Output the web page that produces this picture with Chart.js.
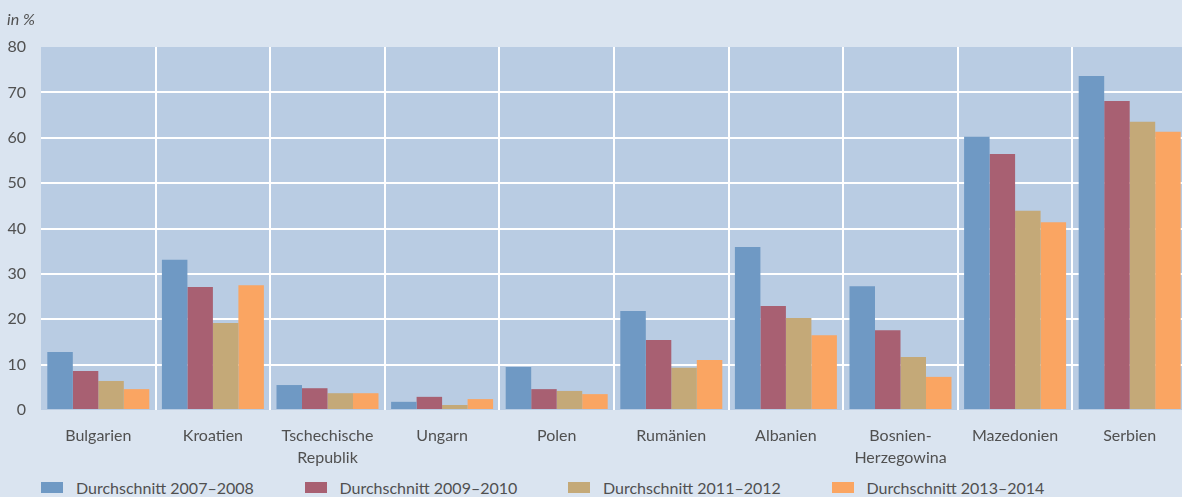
<!DOCTYPE html>
<html>
<head>
<meta charset="utf-8">
<script src="https://cdn.jsdelivr.net/npm/chart.js@4"></script>
<style>
  html, body { margin: 0; padding: 0; background: #dae4f0; overflow: hidden; }
  #wrap { position: absolute; left: 0; top: 0; width: 1187px; height: 472px; }
  #legend { position: absolute; left: 0; top: 476px; width: 1187px; height: 22px;
            font-family: Lato, sans-serif; font-size: 16px; color: #505050; }
  .item { position: absolute; top: 0; height: 22px; display: flex; align-items: center; white-space: nowrap; }
  .box { width: 22px; height: 11px; margin-right: 13px; }
</style>
</head>
<body>
<div id="wrap"><canvas id="myChart" width="1187" height="472"></canvas></div>
<div id="legend"></div>
<script>
var categories = ['Bulgarien', 'Kroatien', ['Tschechische', 'Republik'], 'Ungarn', 'Polen',
                  'Rumänien', 'Albanien', ['Bosnien-', 'Herzegowina'], 'Mazedonien', 'Serbien'];
var seriesLabels = ['Durchschnitt 2007–2008', 'Durchschnitt 2009–2010',
                    'Durchschnitt 2011–2012', 'Durchschnitt 2013–2014'];
var avg0708 = [12.8, 33.1, 5.5, 1.8, 9.5, 21.8, 35.9, 27.3, 60.2, 73.6];
var avg0910 = [8.6, 27.1, 4.8, 2.9, 4.6, 15.4, 22.9, 17.6, 56.4, 68.1];
var avg1112 = [6.4, 19.2, 3.7, 1.1, 4.2, 9.3, 20.3, 11.7, 43.9, 63.5];
var avg1314 = [4.6, 27.5, 3.7, 2.4, 3.5, 11.0, 16.5, 7.3, 41.4, 61.3];
var yMin = 0, yMax = 80, yStep = 10;
var unitLabel = 'in %';

var colors = ['#6f99c4', '#a86072', '#c4a978', '#faa562'];
var textColor = '#505050';

Chart.defaults.font.family = 'Lato';
Chart.defaults.font.size = 16;
Chart.defaults.color = textColor;

// light blue plot area + the "in %" unit label
var plotBg = {
    id: 'plotBg',
    beforeDraw: (chart) => {
        var a = chart.chartArea, c = chart.ctx;
        c.save();
        c.fillStyle = '#b9cce3';
        c.fillRect(a.left, a.top, a.right - a.left, a.bottom - a.top);
        c.restore();
    },
    afterDraw: (chart) => {
        var c = chart.ctx;
        c.save();
        c.font = 'italic 16px Lato';
        c.fillStyle = textColor;
        c.textBaseline = 'middle';
        c.fillText(unitLabel, 7, 20);
        c.restore();
    }
};

var seriesData = [avg0708, avg0910, avg1112, avg1314];
var ctx = document.getElementById('myChart').getContext('2d');
var chart = new Chart(ctx, {
    type: 'bar',
    data: {
        labels: categories,
        datasets: seriesData.map((d, i) => ({
            label: seriesLabels[i],
            data: d,
            backgroundColor: colors[i],
            borderWidth: 0,
            categoryPercentage: 0.89,
            barPercentage: 1.0
        }))
    },
    options: {
        responsive: false,
        animation: false,
        devicePixelRatio: 1,
        layout: { padding: { top: 47, left: 0, right: 0, bottom: 0 } },
        plugins: {
            legend: { display: false },
            tooltip: { enabled: false }
        },
        scales: {
            x: {
                border: { display: false },
                grid: {
                    drawTicks: false,
                    lineWidth: 2,
                    color: (c) => (c.index === 0 || c.index === undefined) ? 'rgba(0,0,0,0)' : '#ffffff'
                },
                ticks: {
                    padding: 15,
                    maxRotation: 0,
                    autoSkip: false,
                    font: { size: 16, lineHeight: 1.35 }
                },
                afterFit: (s) => { s.height = 62; }
            },
            y: {
                min: yMin,
                max: yMax,
                border: { display: false },
                grid: {
                    drawTicks: false,
                    lineWidth: 2,
                    color: (c) => (c.tick && (c.tick.value === yMin || c.tick.value === yMax)) ? 'rgba(0,0,0,0)' : '#ffffff'
                },
                ticks: { stepSize: yStep, padding: 15, font: { size: 16 } },
                afterFit: (s) => { s.width = 41; }
            }
        }
    },
    plugins: [plotBg]
});

// legend built from the chart's datasets
var legendEl = document.getElementById('legend');
chart.data.datasets.forEach((ds, i) => {
    var item = document.createElement('div');
    item.className = 'item';
    item.style.left = (41 + i * 263.5) + 'px';
    var box = document.createElement('span');
    box.className = 'box';
    box.style.background = ds.backgroundColor;
    var txt = document.createElement('span');
    txt.textContent = ds.label;
    item.appendChild(box);
    item.appendChild(txt);
    legendEl.appendChild(item);
});
</script>
</body>
</html>
